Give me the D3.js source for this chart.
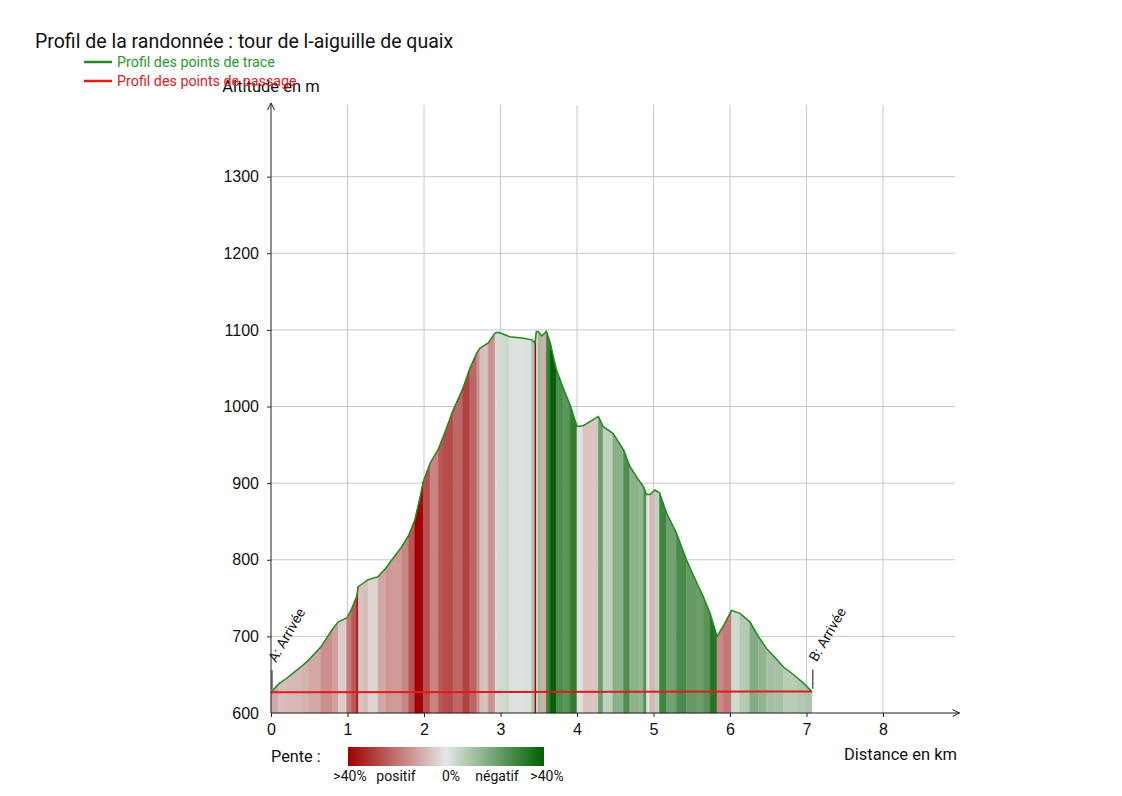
<!DOCTYPE html>
<html>
<head>
<meta charset="utf-8">
<script src="https://cdn.jsdelivr.net/npm/d3@7"></script>
<style>
  body { margin: 0; background: #fff; }
  svg { font-family: Roboto, "Noto Sans", sans-serif; }
  .grid line { stroke: #c8c8c8; stroke-width: 1; }
  .axis path, .axis line { stroke: #222; }
  .axis text { font-size: 16px; fill: #111; }
</style>
</head>
<body>
<div id="chart"></div>
<script>
// Profile of the hike: distance (km) and altitude (m)
const distKm = [0.00, 0.10, 0.20, 0.30, 0.40, 0.49, 0.575, 0.65, 0.71, 0.80, 0.88, 0.99, 1.05, 1.12, 1.14,
  1.20, 1.27, 1.40, 1.50, 1.58, 1.71, 1.80, 1.88, 1.95, 1.99, 2.08, 2.19, 2.25, 2.38, 2.51, 2.60, 2.69, 2.73,
  2.84, 2.93, 2.97, 3.05, 3.12, 3.30, 3.41, 3.45, 3.47, 3.49, 3.54, 3.60, 3.65, 3.69, 3.73, 3.82, 3.91, 4.00,
  4.08, 4.21, 4.28, 4.34, 4.47, 4.61, 4.69, 4.80, 4.87, 4.91, 4.95, 5.02, 5.08, 5.17, 5.30, 5.43, 5.57, 5.65,
  5.74, 5.83, 5.91, 6.02, 6.13, 6.26, 6.37, 6.48, 6.59, 6.70, 6.87, 6.97, 7.07];
const altM = [627, 638, 645, 653, 661, 669, 678, 686, 695, 709, 719, 724, 735, 752, 765,
  769, 774, 778, 789, 800, 817, 832, 852, 882, 902, 926, 945, 960, 995, 1024, 1050, 1070, 1076,
  1083, 1096, 1097, 1094, 1091, 1089, 1087, 1083, 1098, 1098, 1092, 1098, 1083, 1065, 1048, 1024, 1002, 974,
  975, 983, 987, 974, 965, 943, 922, 905, 895, 885, 885, 891, 887, 861, 835, 800, 769, 752,
  730, 700, 713, 734, 730, 719, 700, 684, 672, 660, 647, 638, 628];

// waypoints ("points de passage")
const wpNames = ["A: Arrivée", "B: Arrivée"];
const wpDist = [0.00, 7.07];
const wpAlt = [627, 628];

const xTicks = [0, 1, 2, 3, 4, 5, 6, 7, 8];
const yTicks = [600, 700, 800, 900, 1000, 1100, 1200, 1300];
const slopeLabels = [">40%", "positif", "0%", "négatif", ">40%"];

const W = 1122, H = 796;
const svg = d3.select("#chart").append("svg")
  .attr("width", W).attr("height", H);

const x = d3.scaleLinear().domain([0, 9]).range([271, 959.5]);
const y = d3.scaleLinear().domain([600, 1400]).range([713, 100]);

// slope colour: red uphill, green downhill, grey flat
const slopeColor = d3.scaleLinear()
  .domain([-0.4, 0, 0.4])
  .range(["#005f00", "#e4e6e4", "#a00000"])
  .clamp(true);

// Grid
const grid = svg.append("g").attr("class", "grid");
grid.selectAll(".h").data(yTicks.slice(1)).join("line")
  .attr("x1", x(0)).attr("x2", 955)
  .attr("y1", d => y(d)).attr("y2", d => y(d));
grid.selectAll(".v").data(xTicks.slice(1)).join("line")
  .attr("x1", d => x(d)).attr("x2", d => x(d))
  .attr("y1", 105).attr("y2", y(600));

// Slope coloured strips under the profile
const pts = distKm.map((d, i) => ({ d: d, a: altM[i] }));
const segs = d3.pairs(pts).map(([p, q]) => ({
  p: p, q: q, slope: (q.a - p.a) / ((q.d - p.d) * 1000)
}));
const stripArea = d3.area().x(d => x(d.d)).y0(y(600)).y1(d => y(d.a));
svg.append("g").selectAll("path").data(segs).join("path")
  .attr("d", s => stripArea([s.p, s.q]))
  .attr("fill", s => slopeColor(s.slope))
  .attr("stroke", s => slopeColor(s.slope))
  .attr("stroke-width", 0.6);

// Profile line
svg.append("path")
  .datum(pts)
  .attr("fill", "none")
  .attr("stroke", "#1f8c1f")
  .attr("stroke-width", 1.5)
  .attr("d", d3.line().x(d => x(d.d)).y(d => y(d.a)));

// Waypoint line
const wps = wpDist.map((d, i) => ({ d: d, a: wpAlt[i], name: wpNames[i] }));
svg.append("path")
  .datum(wps)
  .attr("fill", "none")
  .attr("stroke", "#e01b1b")
  .attr("stroke-width", 2)
  .attr("d", d3.line().x(d => x(d.d)).y(d => y(d.a)));

// Waypoint labels
const wpG = svg.append("g");
wpG.selectAll("line").data(wps).join("line")
  .attr("x1", d => x(d.d) + 1).attr("x2", d => x(d.d) + 1)
  .attr("y1", d => y(d.a) - 3).attr("y2", d => y(d.a) - 22)
  .attr("stroke", "#111").attr("stroke-width", 1);
wpG.selectAll("text").data(wps).join("text")
  .attr("transform", d => `translate(${x(d.d) + 5},${y(d.a) - 29}) rotate(-60)`)
  .attr("font-size", 14)
  .attr("fill", "#111")
  .text(d => d.name);

// Axes
const xAxis = svg.append("g").attr("class", "axis")
  .attr("transform", `translate(0,${y(600)})`)
  .call(d3.axisBottom(x).tickValues(xTicks).tickSize(4).tickPadding(7).tickSizeOuter(0));
xAxis.select(".domain").attr("d", `M${x(0)},0H${x(9)}`);
const yAxis = svg.append("g").attr("class", "axis")
  .attr("transform", `translate(${x(0)},0)`)
  .call(d3.axisLeft(y).tickValues(yTicks).tickFormat(d3.format("d"))
    .tickSize(4).tickPadding(8).tickSizeOuter(0));
yAxis.select(".domain").attr("d", `M0,${y(600)}V103`);
yAxis.selectAll(".tick").filter(d => d === 600).select("line").remove();

// arrow heads
svg.append("path").attr("d", `M${x(9) - 7},${y(600) - 3.5}L${x(9)},${y(600)}L${x(9) - 7},${y(600) + 3.5}`)
  .attr("fill", "none").attr("stroke", "#222");
svg.append("path").attr("d", `M${x(0) - 3.5},110L${x(0)},103L${x(0) + 3.5},110`)
  .attr("fill", "none").attr("stroke", "#222");

// Axis titles
svg.append("text").attr("x", x(0)).attr("y", 92).attr("text-anchor", "middle")
  .attr("font-size", 16.5).attr("fill", "#111").text("Altitude en m");
svg.append("text").attr("x", 957).attr("y", 760).attr("text-anchor", "end")
  .attr("font-size", 16.5).attr("fill", "#111").text("Distance en km");

// Title and legend
svg.append("text").attr("x", 35).attr("y", 48)
  .attr("font-size", 19.5).attr("fill", "#111")
  .text("Profil de la randonnée : tour de l-aiguille de quaix");
const legend = [
  { label: "Profil des points de trace", color: "#1f8c1f", text: "#2a9a2a" },
  { label: "Profil des points de passage", color: "#e01b1b", text: "#e01b1b" }
];
const lg = svg.append("g").selectAll("g").data(legend).join("g")
  .attr("transform", (d, i) => `translate(84,${62 + i * 19})`);
lg.append("line").attr("x1", 0).attr("x2", 28).attr("y1", 0).attr("y2", 0)
  .attr("stroke", d => d.color).attr("stroke-width", 2.5);
lg.append("text").attr("x", 33).attr("y", 5).attr("font-size", 14.3)
  .attr("fill", d => d.text).text(d => d.label);

// Slope legend
svg.append("text").attr("x", 271).attr("y", 762).attr("font-size", 16.3)
  .attr("fill", "#111").text("Pente :");
const grad = svg.append("defs").append("linearGradient").attr("id", "pente");
grad.selectAll("stop").data([0.4, 0, -0.4]).join("stop")
  .attr("offset", (d, i) => i * 50 + "%")
  .attr("stop-color", d => slopeColor(d));
svg.append("rect").attr("x", 348).attr("y", 747).attr("width", 196).attr("height", 19)
  .attr("fill", "url(#pente)");
const labX = [350, 396, 451, 497, 547];
svg.append("g").selectAll("text").data(slopeLabels).join("text")
  .attr("x", (d, i) => labX[i]).attr("y", 781)
  .attr("text-anchor", "middle").attr("font-size", 14).attr("fill", "#111")
  .text(d => d);
</script>
</body>
</html>
